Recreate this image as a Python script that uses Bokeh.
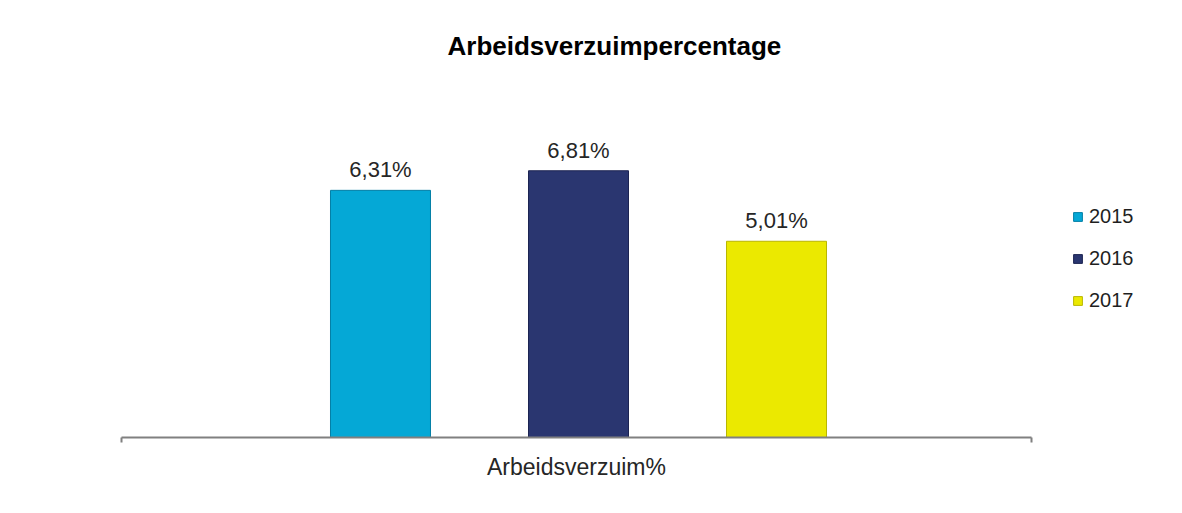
from bokeh.plotting import figure
from bokeh.models import (ColumnDataSource, Range1d, FactorRange, LinearAxis,
                          CategoricalAxis, FixedTicker, Legend, LegendItem, LabelSet)
from bokeh.transform import dodge
from bokeh.core.properties import value
from bokeh.embed import file_html
from bokeh.resources import INLINE

# ---- data ----
title = "Arbeidsverzuimpercentage"
category = "Arbeidsverzuim%"
years = ["2015", "2016", "2017"]
values = [6.31, 6.81, 5.01]

# ---- styles ----
colors = ["#05A8D6", "#2A3670", "#EBE900"]
edges = ["#037FA6", "#1C2452", "#B9B700"]
FONT = "Liberation Sans"

p = figure(frame_width=1152, frame_height=358, output_backend="svg",
           toolbar_location=None,
           x_range=FactorRange(factors=[category], range_padding=0.133,
                               range_padding_units="absolute"),
           y_range=Range1d(0, 9.14),
           x_axis_location=None, y_axis_location=None,
           min_border_left=0, min_border_right=30,
           min_border_top=79, min_border_bottom=76)
p.outline_line_color = None
p.background_fill_color = "white"
p.border_fill_color = "white"
p.grid.visible = False

p.title.text = title
p.title.text_font = FONT
p.title.text_font_style = "bold"
p.title.text_font_size = "26px"
p.title.text_color = "#000000"
p.title.align = "left"
p.title.offset = 447
p.title.standoff = 38

# axis line (limited to the category extent) with tick marks at both ends
edge_axis = LinearAxis(ticker=FixedTicker(ticks=[0, 1]), bounds=(0, 1),
                       major_tick_in=0, major_tick_out=5,
                       major_label_overrides={0: "", 1: ""},
                       major_label_text_font_size="1px", major_label_standoff=0,
                       minor_tick_line_color=None,
                       axis_line_color="#808080", axis_line_width=2,
                       major_tick_line_color="#808080", major_tick_line_width=2)
cat_axis = CategoricalAxis(axis_line_color=None, major_tick_line_color=None,
                           major_tick_in=0, major_tick_out=0,
                           major_label_standoff=11,
                           major_label_text_font=FONT,
                           major_label_text_font_size="23px",
                           major_label_text_color="#262626")
p.add_layout(edge_axis, "below")
p.add_layout(cat_axis, "below")

step = 0.2176
base = 0.0022
items = []
for i, (yr, v, c, e) in enumerate(zip(years, values, colors, edges)):
    src = ColumnDataSource(dict(cat=[category], value=[v],
                                label=[f"{v:.2f}".replace(".", ",") + "%"]))
    off = base + (i - 1) * step
    r = p.vbar(x=dodge("cat", off, range=p.x_range), top="value", bottom=0,
               width=0.1099, source=src, fill_color=c, line_color=e, line_width=1)
    p.add_layout(LabelSet(x=dodge("cat", off, range=p.x_range), y="value",
                          text="label", source=src, text_align="center",
                          text_baseline="alphabetic", y_offset=13,
                          text_font=value(FONT), text_font_size=value("22px"),
                          text_color=value("#262626")))
    items.append(LegendItem(label=yr, renderers=[r]))

legend = Legend(items=items, location=(1072, 125), orientation="vertical",
                margin=0, padding=0, spacing=18, label_height=24,
                glyph_width=11, glyph_height=11, label_standoff=6,
                label_text_font=FONT, label_text_font_size="20px",
                label_text_color="#1f1f1f",
                border_line_color=None, background_fill_alpha=0)
p.add_layout(legend)

open("out.html", "w").write(file_html(p, INLINE))
